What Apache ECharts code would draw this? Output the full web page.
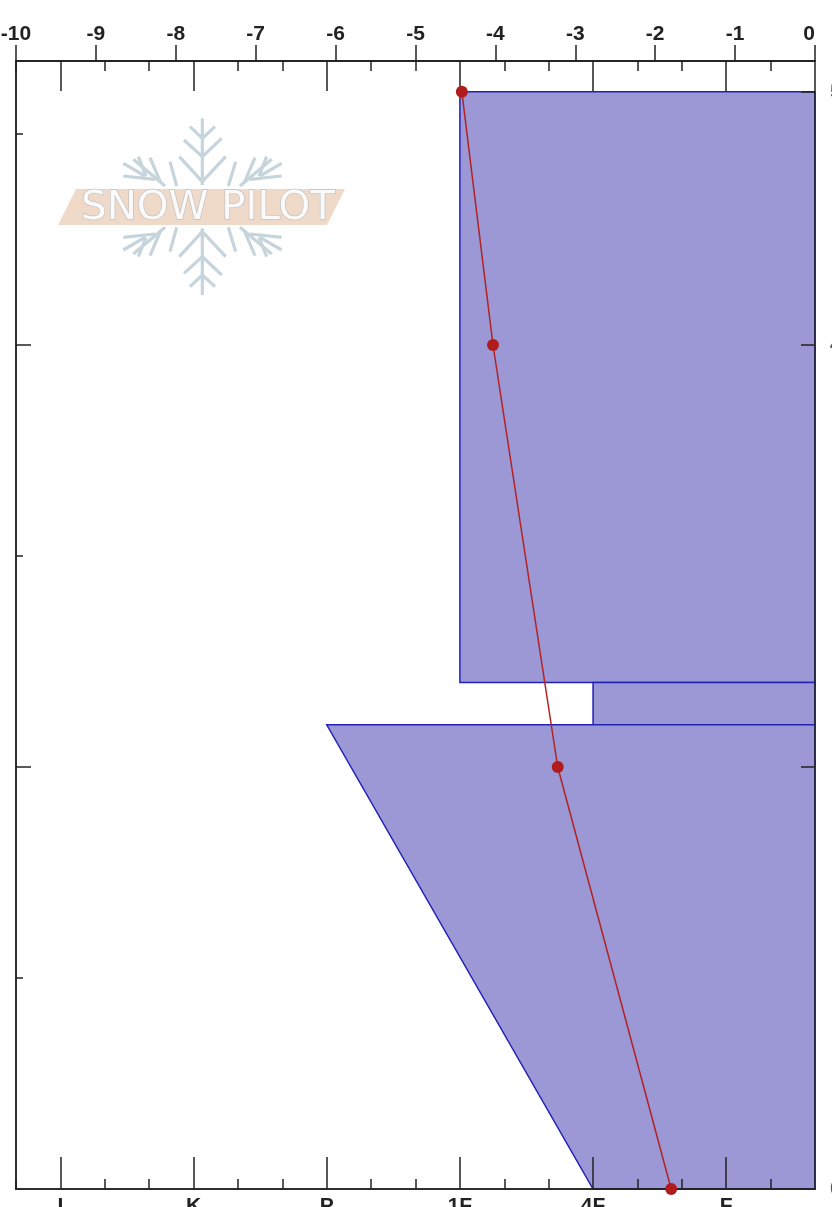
<!DOCTYPE html>
<html>
<head>
<meta charset="utf-8">
<style>html,body{margin:0;padding:0;background:#fff;overflow:hidden}#c{width:832px;height:1207px}</style>
<script src="https://cdn.jsdelivr.net/npm/echarts@6/dist/echarts.min.js"></script>
</head>
<body>
<div id="c"></div>
<script>
// Temperature profile (deg C at depth in cm)
const tempDepths = [52, 40, 20, 0];
const tempValues = [-4.42, -4.03, -3.22, -1.8];
// Hand hardness layers; hardness is in thirds of a class on the lower scale
const layerTop = [52, 24, 22];
const layerBottom = [24, 22, 0];
const hardnessAtTop = [10, 13, 7];
const hardnessAtBottom = [10, 13, 13];
// Axes
const hardnessTicks = [1, 4, 7, 10, 13, 16];
const hardnessLabels = ['I', 'K', 'P', '1F', '4F', 'F'];
const hardnessMinorTicks = [0, 2, 3, 5, 6, 8, 9, 11, 12, 14, 15, 17];
const depthMajorLeft = [20, 40];
const depthMinorLeft = [10, 30, 50];
const depthRightTicks = [20, 40, 52];
const depthRightLabels = [0, 40, 52];

const AX = '#222';
const FONT = '"Liberation Sans", Arial, sans-serif';
const line = {show: true, onZero: false, lineStyle: {color: AX, width: 1.5}};

function hardAxis(position, ticks, len, extra) {
  return Object.assign({
    type: 'value', position, min: 0, max: 18, interval: 1, z: 1,
    axisLine: line, splitLine: {show: false},
    axisTick: {show: true, inside: true, length: len, customValues: ticks, lineStyle: {color: AX, width: 1.5}},
    axisLabel: {show: false}
  }, extra || {});
}
function depthAxis(position, ticks, len, extra) {
  return Object.assign({
    type: 'value', position, min: 0, max: 53.46, z: 1,
    axisLine: line, splitLine: {show: false},
    axisTick: {show: true, inside: true, length: len, customValues: ticks, lineStyle: {color: AX, width: 1.5}},
    axisLabel: {show: false}
  }, extra || {});
}

// Watermark, drawn in its own local coordinates
const flakeTop = [
  [[487,25],[487,225]], [[450,50],[487,85],[525,50]], [[432,90],[487,140],[545,85]], [[418,140],[487,215],[557,140]],
  [[390,155],[410,228]], [[587,155],[565,228]],
  [[375,228],[280,148]], [[250,160],[315,198]], [[250,198],[345,208]], [[295,140],[318,198]], [[330,143],[362,218]],
  [[600,228],[695,148]], [[725,160],[660,198]], [[725,198],[630,208]], [[680,140],[657,198]], [[645,143],[613,218]]
];
const mapX = x => x / 3 + 40;
const mapY = y => y / 3 + 110;
const flakeEls = [];
flakeTop.forEach(p => {
  [y => y, y => 580 - y].forEach(fy => {
    flakeEls.push({
      type: 'polyline', silent: true, z: 0,
      shape: {points: p.map(q => [mapX(q[0]), mapY(fy(q[1]))])},
      style: {stroke: '#c6d4dc', lineWidth: 3.2, fill: null}
    });
  });
});

const chart = echarts.init(document.getElementById('c'), null, {renderer: 'canvas'});
chart.setOption({
  animation: false,
  backgroundColor: '#fff',
  grid: {left: 16, top: 61, width: 799, height: 1128, containLabel: false, outerBoundsMode: 'none'},
  xAxis: [
    {type: 'value', position: 'top', min: -10, max: 0, interval: 1, z: 1,
     axisLine: line, splitLine: {show: false},
     axisTick: {show: true, inside: false, length: 16, lineStyle: {color: AX, width: 1.5}},
     axisLabel: {show: true, margin: 16, color: '#222', fontFamily: FONT, fontWeight: 'bold', fontSize: 21,
                 alignMaxLabel: 'right', showMinLabel: true, showMaxLabel: true, hideOverlap: false}},
    hardAxis('top', hardnessTicks, 30),
    hardAxis('top', hardnessMinorTicks, 10),
    hardAxis('bottom', hardnessTicks, 32, {
      axisLabel: {show: true, customValues: hardnessTicks, margin: 7, color: '#222', fontFamily: FONT,
                  fontWeight: 'bold', fontSize: 21,
                  formatter: v => hardnessLabels[hardnessTicks.indexOf(v)] || ''}
    }),
    hardAxis('bottom', hardnessMinorTicks, 10)
  ],
  yAxis: [
    depthAxis('left', depthMajorLeft, 15),
    depthAxis('left', depthMinorLeft, 7),
    depthAxis('right', depthRightTicks, 14, {
      axisLabel: {show: true, customValues: depthRightLabels, margin: 15, color: '#555', fontFamily: FONT,
                  fontWeight: 'bold', fontSize: 21}
    })
  ],
  graphic: [
    ...flakeEls,
    {type: 'polygon', silent: true, z: 1,
     shape: {points: [[58,225],[76,189],[345,189],[327,225]]},
     style: {fill: '#efd9c8'}},
    {type: 'text', silent: true, z: 2, x: 208, y: 209, scaleX: 1.12, scaleY: 1.1,
     style: {text: 'SNOW PILOT', font: '36px "DejaVu Sans"', fill: '#fafafa', stroke: '#c0c0c0', lineWidth: 1.2,
             align: 'center', verticalAlign: 'middle'}}
  ],
  series: [
    {
      type: 'custom', xAxisIndex: 3, yAxisIndex: 0, z: 0, clip: false,
      data: layerTop.map((t, i) => [t, layerBottom[i], hardnessAtTop[i], hardnessAtBottom[i]]),
      encode: {x: [2, 3], y: [0, 1]},
      renderItem(params, api) {
        const top = api.value(0), bot = api.value(1), ht = api.value(2), hb = api.value(3);
        return {
          type: 'polygon',
          shape: {points: [api.coord([ht, top]), api.coord([18, top]), api.coord([18, bot]), api.coord([hb, bot])]},
          style: {fill: '#9b98d5', stroke: '#2222b4', lineWidth: 1.5}
        };
      }
    },
    {
      type: 'line', xAxisIndex: 0, yAxisIndex: 0, z: 5, clip: false,
      data: tempValues.map((v, i) => [v, tempDepths[i]]),
      symbol: 'circle', symbolSize: 12,
      lineStyle: {color: '#b32222', width: 1.5},
      itemStyle: {color: '#b01c1c'}
    }
  ]
});
</script>
</body>
</html>
